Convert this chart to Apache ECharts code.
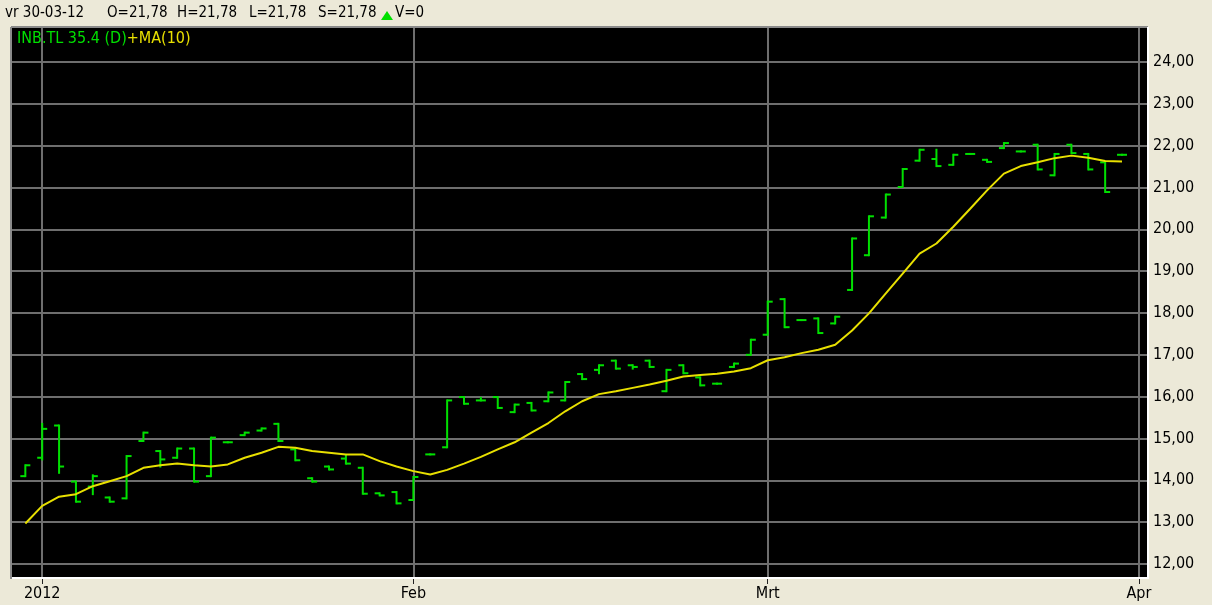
<!DOCTYPE html>
<html>
<head>
<meta charset="utf-8">
<script src="https://cdn.jsdelivr.net/npm/echarts@6/dist/echarts.min.js"></script>
<style>
html,body{margin:0;padding:0;background:#ece9d8;}
#c{width:1212px;height:605px;}
</style>
</head>
<body>
<div id="c"></div>
<script>
// Trading days (Dec 30 2011 .. Mar 30 2012)
const dates = [
 '2011-12-30',
 '2012-01-02','2012-01-03','2012-01-04','2012-01-05','2012-01-06','2012-01-09','2012-01-10','2012-01-11','2012-01-12','2012-01-13',
 '2012-01-16','2012-01-17','2012-01-18','2012-01-19','2012-01-20','2012-01-23','2012-01-24','2012-01-25','2012-01-26','2012-01-27',
 '2012-01-30','2012-01-31',
 '2012-02-01','2012-02-02','2012-02-03','2012-02-06','2012-02-07','2012-02-08','2012-02-09','2012-02-10','2012-02-13','2012-02-14',
 '2012-02-15','2012-02-16','2012-02-17','2012-02-20','2012-02-21','2012-02-22','2012-02-23','2012-02-24','2012-02-27','2012-02-28',
 '2012-02-29',
 '2012-03-01','2012-03-02','2012-03-05','2012-03-06','2012-03-07','2012-03-08','2012-03-09','2012-03-12','2012-03-13','2012-03-14',
 '2012-03-15','2012-03-16','2012-03-19','2012-03-20','2012-03-21','2012-03-22','2012-03-23','2012-03-26','2012-03-27','2012-03-28',
 '2012-03-29','2012-03-30'
];
const openV = [14.10,14.54,15.31,13.97,13.85,13.59,13.57,14.94,14.70,14.54,14.76,14.10,14.91,15.08,15.19,15.35,14.74,14.05,14.33,14.52,
 14.30,13.69,13.72,13.53,14.62,14.79,15.99,15.91,15.99,15.63,15.85,15.89,15.91,16.54,16.64,16.86,16.75,16.86,16.13,16.75,
 16.46,16.31,16.71,17.00,17.48,18.33,17.83,17.87,17.75,18.55,19.38,20.28,21.01,21.64,21.68,21.54,21.80,21.66,21.94,21.86,
 22.02,21.29,22.02,21.80,21.60,21.78];
const highV = [14.36,15.35,15.31,13.97,14.12,13.59,14.58,15.14,14.70,14.76,14.76,15.02,14.91,15.14,15.24,15.35,14.74,14.05,14.33,14.60,
 14.30,13.69,13.72,14.08,14.62,15.91,15.99,15.97,15.99,15.81,15.85,16.10,16.35,16.54,16.75,16.86,16.75,16.86,16.64,16.75,
 16.46,16.31,16.79,17.36,18.27,18.33,17.83,17.87,17.91,19.78,20.31,20.83,21.44,21.90,21.90,21.78,21.80,21.66,22.06,21.86,
 22.02,21.80,22.02,21.80,21.60,21.78];
const lowV = [14.10,14.50,14.18,13.49,13.67,13.49,13.57,14.94,14.33,14.54,13.97,14.10,14.91,15.08,15.19,14.94,14.48,13.97,14.26,14.40,
 13.68,13.64,13.45,13.53,14.62,14.79,15.83,15.91,15.73,15.63,15.67,15.89,15.91,16.42,16.56,16.67,16.67,16.71,16.13,16.56,
 16.27,16.31,16.71,17.00,17.48,17.66,17.83,17.52,17.75,18.55,19.38,20.28,21.01,21.64,21.51,21.54,21.80,21.61,21.94,21.86,
 21.43,21.29,21.82,21.43,20.89,21.78];
const closeV = [14.36,15.23,14.33,13.49,14.10,13.49,14.58,15.14,14.50,14.76,13.97,15.02,14.91,15.14,15.24,14.94,14.48,13.97,14.26,14.40,
 13.68,13.64,13.45,14.08,14.62,15.91,15.83,15.91,15.73,15.81,15.67,16.10,16.35,16.42,16.75,16.67,16.71,16.71,16.64,16.56,
 16.27,16.31,16.79,17.36,18.27,17.66,17.83,17.52,17.91,19.78,20.31,20.83,21.44,21.90,21.51,21.78,21.80,21.61,22.06,21.86,
 21.43,21.80,21.82,21.43,20.89,21.78];
const ma10 = [12.97,13.39,13.61,13.67,13.86,13.98,14.10,14.30,14.36,14.40,
 14.36,14.33,14.38,14.54,14.66,14.80,14.78,14.70,14.66,14.62,
 14.62,14.46,14.33,14.22,14.14,14.25,14.40,14.56,14.74,14.91,
 15.14,15.37,15.65,15.89,16.06,16.13,16.21,16.29,16.38,16.48,
 16.52,16.55,16.60,16.68,16.87,16.94,17.04,17.12,17.24,17.58,
 17.99,18.47,18.94,19.42,19.66,20.06,20.49,20.93,21.33,21.51,
 21.60,21.70,21.76,21.71,21.63,21.62];
const yTicks = [12,13,14,15,16,17,18,19,20,21,22,23,24];
const monthTickDates = ['2012-01-02','2012-02-01','2012-03-01','2012-04-02'];
const monthTickLabels = ['2012','Feb','Mrt','Apr'];

// index of a date on the trading-day axis
function dayIndex(d){ const i = dates.findIndex(x => x >= d); return i < 0 ? dates.length : i; }
const monthTickIdx = monthTickDates.map(dayIndex);
const labelOf = {}; monthTickIdx.forEach((v,k)=>{ labelOf[v] = monthTickLabels[k]; });

const ohlc = dates.map((d,i)=>[i, openV[i], closeV[i], highV[i], lowV[i]]);
const maData = ma10.map((v,i)=>[i, v]);

const GREEN = '#00e000', YELLOW = '#e8e000', GRIDC = '#6e6e6e';
const FONT = "'DejaVu Sans Condensed','Liberation Sans Narrow','DejaVu Sans',sans-serif";

const chart = echarts.init(document.getElementById('c'), null, {renderer:'canvas'});
chart.setOption({
  backgroundColor:'#ece9d8',
  animation:false,
  grid:{left:12, right:65, top:28, bottom:28, show:true, backgroundColor:'#000', borderWidth:0, containLabel:false},
  xAxis:{
    type:'value', min:-0.79, max:66.48,
    axisLine:{show:false},
    axisTick:{show:true, customValues:monthTickIdx, length:7, lineStyle:{color:'#222', width:1}},
    axisLabel:{show:true, customValues:monthTickIdx, margin:9, color:'#000', fontSize:16, fontFamily:FONT,
      formatter:v=>labelOf[v]||''},
    splitLine:{show:true, lineStyle:{color:GRIDC, width:2}}
  },
  yAxis:{
    type:'value', position:'right', min:11.69, max:24.81, scale:true,
    axisLine:{show:false},
    axisTick:{show:false, customValues:yTicks},
    axisLabel:{show:true, customValues:yTicks, margin:6, color:'#000', fontSize:16, fontFamily:FONT,
      formatter:v=>v.toFixed(2).replace('.',',')},
    splitLine:{show:true, lineStyle:{color:GRIDC, width:2}}
  },
  series:[
    {
      type:'custom', name:'INB.TL', data:ohlc, clip:true,
      encode:{x:0, y:[1,2,3,4]},
      renderItem:function(params, api){
        const i = api.value(0);
        const o = api.coord([i, api.value(1)]);
        const c = api.coord([i, api.value(2)]);
        const h = api.coord([i, api.value(3)]);
        const l = api.coord([i, api.value(4)]);
        const t = 5;
        const st = {stroke:GREEN, lineWidth:2};
        return {type:'group', children:[
          {type:'line', shape:{x1:h[0], y1:h[1]-1, x2:l[0], y2:l[1]+1}, style:st},
          {type:'line', shape:{x1:o[0]-t, y1:o[1], x2:o[0], y2:o[1]}, style:st},
          {type:'line', shape:{x1:c[0], y1:c[1], x2:c[0]+t, y2:c[1]}, style:st}
        ]};
      },
      z:3
    },
    {
      type:'line', name:'MA(10)', data:maData, showSymbol:false, symbol:'none',
      lineStyle:{color:YELLOW, width:2}, z:4
    }
  ],
  graphic:[
    // sunken frame
    {type:'line', z:100, shape:{x1:11, y1:27, x2:1148, y2:27}, style:{stroke:'#8a8a8a', lineWidth:2}},
    {type:'line', z:100, shape:{x1:11, y1:27, x2:11, y2:579}, style:{stroke:'#8a8a8a', lineWidth:2}},
    {type:'line', z:100, shape:{x1:12, y1:578, x2:1149, y2:578}, style:{stroke:'#ffffff', lineWidth:2}},
    {type:'line', z:100, shape:{x1:1148, y1:27, x2:1148, y2:579}, style:{stroke:'#ffffff', lineWidth:2}},
    // header info
    {type:'text', z:100, left:5, top:6, style:{text:'vr 30-03-12', fill:'#000', font:"15px "+FONT}},
    {type:'text', z:100, left:107, top:6, style:{text:'O=21,78', fill:'#000', font:"15px "+FONT}},
    {type:'text', z:100, left:177, top:6, style:{text:'H=21,78', fill:'#000', font:"15px "+FONT}},
    {type:'text', z:100, left:249, top:6, style:{text:'L=21,78', fill:'#000', font:"15px "+FONT}},
    {type:'text', z:100, left:318, top:6, style:{text:'S=21,78', fill:'#000', font:"15px "+FONT}},
    {type:'polygon', z:100, shape:{points:[[381,20],[393,20],[387,11]]}, style:{fill:'#00e000'}},
    {type:'text', z:100, left:395, top:6, style:{text:'V=0', fill:'#000', font:"15px "+FONT}},
    // legend
    {type:'text', z:100, left:17, top:31, style:{
      rich:{g:{fill:GREEN, font:"16px "+FONT}, y:{fill:YELLOW, font:"16px "+FONT}},
      text:'{g|INB.TL 35.4 (D)}{y|+MA(10)}'}}
  ]
});
</script>
</body>
</html>
